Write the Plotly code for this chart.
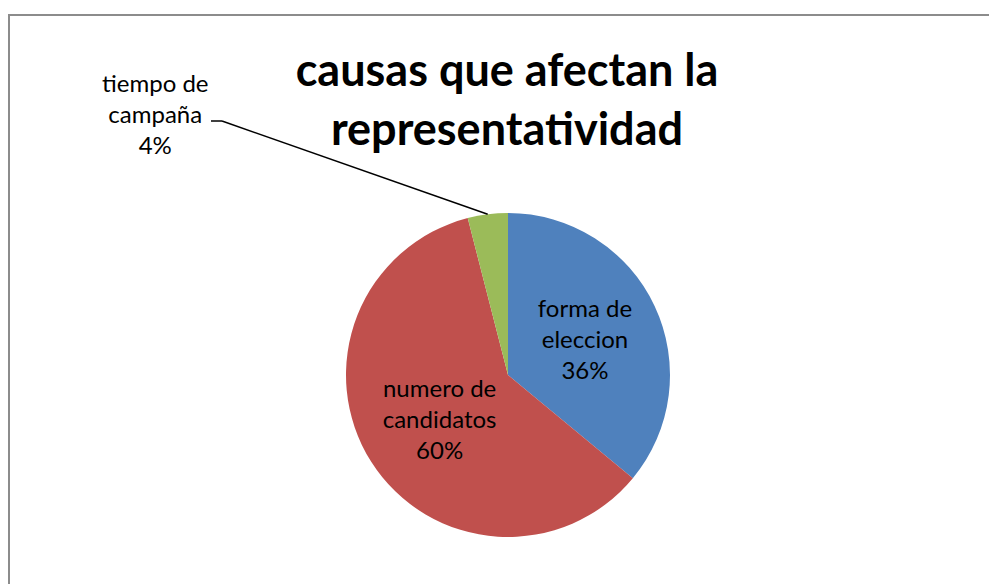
import math
import plotly.graph_objects as go

labels = ["forma de eleccion", "numero de candidatos", "tiempo de campaña"]
values = [9, 15, 1]
colors = ["#4F81BD", "#C0504D", "#9BBB59"]
title = "causas que afectan la<br>representatividad"

W, H = 997, 584
OFF = 8  # page body margin
cx, cy, r = 508 - OFF, 375 - OFF, 162  # pie centre / radius in pixels
FONT = "Lato"


def px(x):
    return (x - OFF) / W


def py(y):
    return 1 - (y - OFF) / H


dom_x = [(cx - r) / W, (cx + r) / W]
dom_y = [1 - (cy + r) / H, 1 - (cy - r) / H]

total = sum(values)
pct = [round(v / total * 100) for v in values]
text = ["forma de<br>eleccion<br>%d%%" % pct[0],
        "numero de<br>candidatos<br>%d%%" % pct[1],
        ""]

fig = go.Figure(
    go.Pie(
        labels=labels,
        values=values,
        sort=False,
        direction="clockwise",
        rotation=0,
        marker=dict(colors=colors, line=dict(width=0)),
        text=text,
        textinfo="text",
        textposition="inside",
        insidetextorientation="horizontal",
        textfont=dict(family=FONT, size=24, color="black"),
        domain=dict(x=dom_x, y=dom_y),
        showlegend=False,
        hoverinfo="label+percent",
    )
)

# leader line for the small slice, ending at the middle of its arc
start = sum(values[:2]) / total * 360
mid = math.radians(start + values[2] / total * 360 / 2)
ax_px = cx + r * math.sin(mid)
ay_px = cy - r * math.cos(mid)
fig.add_shape(type="line", xref="paper", yref="paper",
              x0=px(211), y0=py(121), x1=px(222), y1=py(121),
              line=dict(color="black", width=1.5))
fig.add_shape(type="line", xref="paper", yref="paper",
              x0=px(222), y0=py(121), x1=ax_px / W, y1=1 - ay_px / H,
              line=dict(color="black", width=1.5))
fig.add_annotation(
    x=px(155), y=py(113), xref="paper", yref="paper",
    xanchor="center", yanchor="middle",
    text="tiempo de<br>campaña<br>%d%%" % pct[2], showarrow=False,
    font=dict(family=FONT, size=24, color="black"),
)

# chart frame (left edge sits right at the page edge)
fig.add_shape(type="rect", xref="paper", yref="paper",
              x0=0.001, y0=-0.05, x1=1.05, y1=py(15),
              line=dict(color="#8c8c8c", width=2))

fig.update_layout(
    width=W, height=H,
    margin=dict(l=0, r=0, t=0, b=0),
    paper_bgcolor="white",
    title=dict(text=title, x=px(507), xanchor="center", y=py(86), yanchor="middle",
               font=dict(family=FONT, size=45, color="black", weight="bold")),
)

fig.write_html("out.html")
